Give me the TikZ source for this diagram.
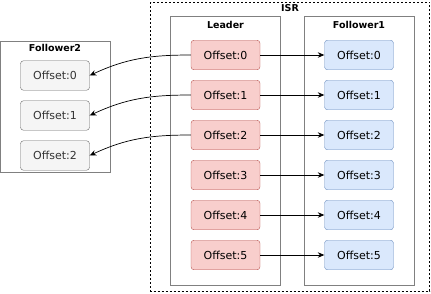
\documentclass[tikz,border=0pt]{standalone}
\usepackage{fontspec}
\setmainfont{DejaVu Sans}
\usepackage{xcolor}
\usetikzlibrary{arrows.meta}

\definecolor{redfill}{HTML}{F8CECC}
\definecolor{redline}{HTML}{B85450}
\definecolor{bluefill}{HTML}{DAE8FC}
\definecolor{blueline}{HTML}{6C8EBF}
\definecolor{grayfill}{HTML}{F5F5F5}
\definecolor{grayline}{HTML}{666666}
\definecolor{boxline}{HTML}{808080}

\tikzset{
  offs/.style={draw, rounded corners=3pt, minimum width=69pt, minimum height=29.5pt,
    inner sep=0pt, font=\fontsize{11}{13}\selectfont},
  leaderoff/.style={offs, fill=redfill, draw=redline},
  followoff/.style={offs, fill=bluefill, draw=blueline},
  slowoff/.style={offs, fill=grayfill, draw=grayline, text=black!80},
  grp/.style={draw=boxline, line width=0.7pt},
  grplabel/.style={font=\bfseries\fontsize{9.5}{11}\selectfont},
}

\begin{document}
\begin{tikzpicture}[>={Stealth[length=6.5pt,width=5.5pt]}, x=1pt, y=-1pt]
  \useasboundingbox (0,0) rectangle (431,293);
  % ISR-Rahmen
  \draw[dash pattern=on 2pt off 2pt, line width=0.7pt] (150.5,2) rectangle (429.5,291);
  \node[grplabel] (isr) at (290,8) {ISR};
  % Leader und Follower1
  \draw[grp] (170.5,16) rectangle (280,285.5);
  \node[grplabel] (leader) at (225.5,25) {Leader};
  \draw[grp] (304,16) rectangle (414,285.5);
  \node[grplabel] (fone) at (359,25) {Follower1};
  % Follower2 (links)
  \draw[grp] (0.5,41) rectangle (110,172);
  \node[grplabel] (ftwo) at (55,48) {Follower2};

  \foreach \i in {0,...,5} {
    \node[leaderoff] (l\i) at (225.5,55+40*\i) {Offset:\i};
    \node[followoff] (f\i) at (359,55+40*\i) {Offset:\i};
    \draw[->, line width=0.7pt] (l\i) -- (f\i);
  }
  \foreach \i in {0,1,2} {
    \node[slowoff] (g\i) at (55,75.5+40*\i) {Offset:\i};
    \draw[->, line width=0.7pt] (l\i.west) to[out=180, in=25] (g\i.east);
  }
\end{tikzpicture}
\end{document}
